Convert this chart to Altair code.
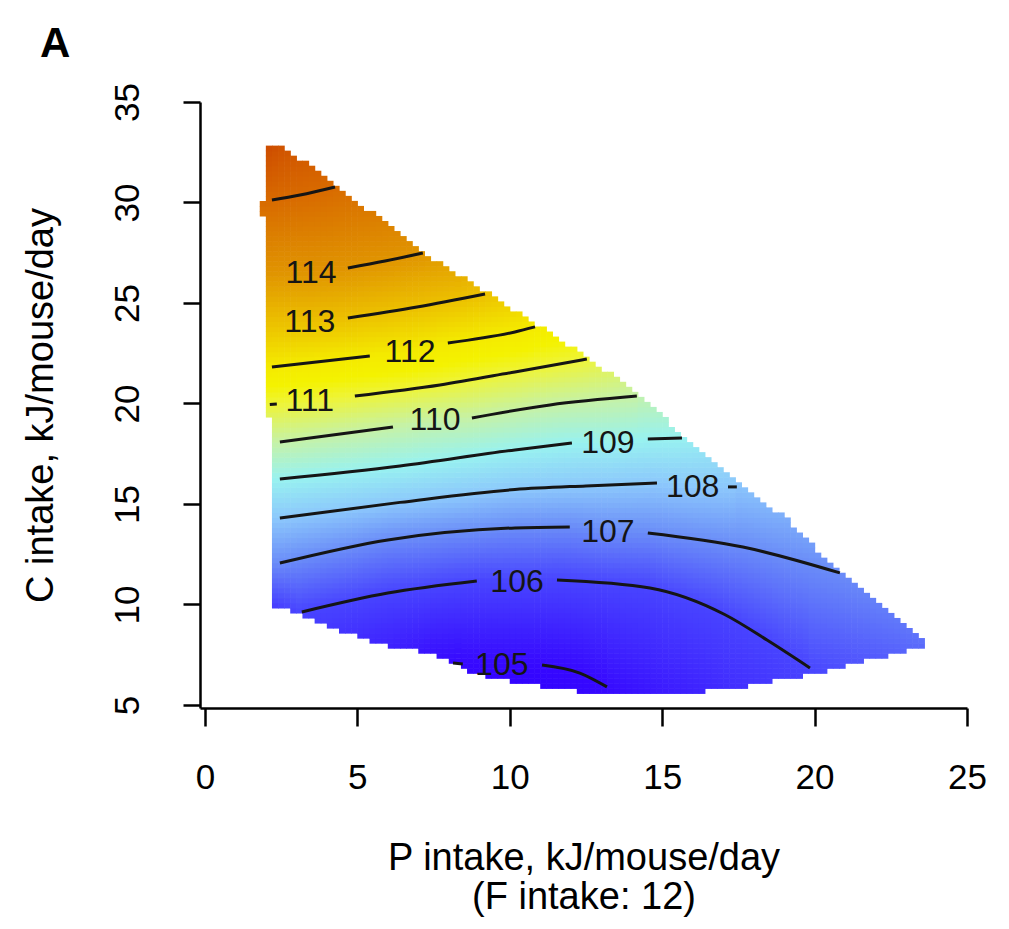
import numpy as np
import pandas as pd
import altair as alt

FONT = "Liberation Sans"

# ---------------- axes ----------------
x_ticks = [0, 5, 10, 15, 20, 25]
y_ticks = [5, 10, 15, 20, 25, 30, 35]
x_domain = [-0.16, 25.0]
y_domain = [4.85, 35.0]

# ---------------- outline of the fitted region ----------------
top_edge_x = [2.07, 2.56, 4.27, 7.12, 9.19, 10.89, 12.53, 14.27, 15.68, 17.55, 19.09, 20.83, 22.47, 23.69]
top_edge_y = [32.75, 32.75, 30.87, 27.54, 25.55, 23.9, 22.26, 20.42, 18.33, 16.04, 14.2, 11.57, 9.58, 7.99]
bottom_edge_x = [2.3, 3.05, 4.36, 6.0, 7.4, 8.8, 10.1, 12.3, 14.6, 17.13, 17.65, 19.52, 20.83, 22.24, 23.23, 23.69]
bottom_edge_y = [9.88, 9.58, 8.73, 7.9, 7.55, 6.6, 6.1, 5.65, 5.5, 5.75, 5.9, 6.39, 6.84, 7.39, 7.74, 7.99]
left_band_lo = [0.0, 19.2, 29.4, 30.1]
left_band_x = [2.3, 2.07, 1.74, 2.07]

# surface value along the region's upper and lower edges
top_val_x = [2.07, 2.56, 4.27, 7.15, 9.19, 10.83, 12.53, 14.17, 15.65, 17.5, 20.83, 23.69]
top_val = [115.6, 115.45, 115.0, 114.0, 113.0, 112.0, 111.0, 110.0, 109.0, 108.0, 107.0, 106.6]
bot_val_x = [2.3, 3.18, 8.14, 10.5, 13.19, 16.5, 19.85, 23.69]
bot_val = [105.9, 106.0, 105.0, 104.85, 105.0, 105.5, 106.0, 106.55]

# ---------------- contour lines (pieces between labels) ----------------
c105a_x = [8.14, 8.46];                     c105a_y = [7.09, 7.04]
c105b_x = [11.06, 12.3, 13.19];             c105b_y = [6.99, 6.59, 5.9]
c106a_x = [3.18, 6.0, 8.92];                c106a_y = [9.63, 10.57, 11.17]
c106b_x = [11.55, 14.6, 17.05, 18.44, 19.85]; c106b_y = [11.22, 10.82, 9.5, 8.23, 6.84]
c107a_x = [2.46, 6.0, 10.17, 11.97];        c107a_y = [12.06, 13.21, 13.81, 13.86]
c107b_x = [14.53, 17.65, 20.83];            c107b_y = [13.56, 12.86, 11.57]
c108a_x = [2.46, 6.4, 10.17, 12.5, 14.83];  c108a_y = [14.3, 15.08, 15.72, 15.9, 16.04]
c108b_x = [17.16, 17.45];                   c108b_y = [15.85, 15.85]
c109a_x = [2.46, 6.4, 10.17, 12.04];        c109a_y = [16.24, 16.89, 17.69, 18.03]
c109b_x = [14.53, 15.65];                   c109b_y = [18.23, 18.28]
c110a_x = [2.46, 6.17];                     c110a_y = [18.08, 18.83]
c110b_x = [8.76, 11.32, 14.17];             c110b_y = [19.28, 19.93, 20.37]
c111a_x = [2.13, 2.36];                     c111a_y = [19.95, 19.98]
c111b_x = [4.92, 7.71, 10.17, 12.53];       c111b_y = [20.37, 20.92, 21.57, 22.21]
c112a_x = [2.2, 5.41];                      c112a_y = [21.82, 22.36]
c112b_x = [7.97, 10.17, 10.83];             c112b_y = [23.01, 23.56, 23.81]
c113a_x = [4.69, 6.96, 9.19];               c113a_y = [24.25, 24.8, 25.45]
c114a_x = [4.69, 5.91, 7.15];               c114a_y = [26.74, 27.09, 27.49]
c115a_x = [2.2, 3.12, 4.27];                c115a_y = [30.12, 30.37, 30.77]

label_levels = [105, 106, 107, 108, 109, 110, 111, 112, 113, 114]
label_x = [9.74, 10.24, 13.22, 16.0, 13.22, 7.55, 3.44, 6.73, 3.44, 3.48]
label_y = [6.99, 11.12, 13.61, 15.85, 18.03, 19.18, 20.1, 22.56, 24.05, 26.5]
reach_left = [107, 108, 109, 110, 111, 112, 113, 114, 115]

# ---------------- colour ramp ----------------
col_levels = [104.8, 105.0, 106.0, 107.0, 108.0, 109.0, 110.0, 111.0, 111.5, 112.0, 113.0, 114.0, 115.0, 115.7]
col_hex = ["#3000ff", "#3608ff", "#4844ff", "#6a8cf8", "#8cc8fc", "#98f2f0", "#c6f2a6",
           "#eef438", "#f4f200", "#f4ea00", "#ecc000", "#e09400", "#d86a00", "#cc4800"]

segments = [
    (105, c105a_x, c105a_y), (105, c105b_x, c105b_y),
    (106, c106a_x, c106a_y), (106, c106b_x, c106b_y),
    (107, c107a_x, c107a_y), (107, c107b_x, c107b_y),
    (108, c108a_x, c108a_y), (108, c108b_x, c108b_y),
    (109, c109a_x, c109a_y), (109, c109b_x, c109b_y),
    (110, c110a_x, c110a_y), (110, c110b_x, c110b_y),
    (111, c111a_x, c111a_y), (111, c111b_x, c111b_y),
    (112, c112a_x, c112a_y), (112, c112b_x, c112b_y),
    (113, c113a_x, c113a_y),
    (114, c114a_x, c114a_y),
    (115, c115a_x, c115a_y),
]

# full polylines per level (pieces + label position) for building the surface
full = {}
for lev, sx, sy in segments:
    full.setdefault(lev, []).extend(zip(sx, sy))
for lev, lx, ly in zip(label_levels, label_x, label_y):
    full.setdefault(lev, []).append((lx, ly))
for lev in full:
    full[lev] = sorted(full[lev])


def column_knots(cx):
    knots = []
    if cx >= bot_val_x[0]:
        knots.append((float(np.interp(cx, bottom_edge_x, bottom_edge_y)),
                      float(np.interp(cx, bot_val_x, bot_val))))
    if cx >= top_val_x[0]:
        knots.append((float(np.interp(cx, top_edge_x, top_edge_y)),
                      float(np.interp(cx, top_val_x, top_val))))
    for lev, pts in full.items():
        px = [p[0] for p in pts]
        py = [p[1] for p in pts]
        if cx < px[0]:
            if lev in reach_left:
                knots.append((py[0], float(lev)))
        elif cx <= px[-1]:
            knots.append((float(np.interp(cx, px, py)), float(lev)))
    knots.sort()
    return [k[0] for k in knots], [k[1] for k in knots]


DX, DY = 0.2, 0.25
cells = []
for x0 in np.arange(1.6, 23.8, DX):
    cx = x0 + DX / 2
    if cx > top_edge_x[-1]:
        continue
    yb = np.interp(cx, bottom_edge_x, bottom_edge_y)
    yt = np.interp(cx, top_edge_x, top_edge_y)
    ky, kv = column_knots(cx)
    for y0 in np.arange(5.3, 33.0, DY):
        cy = y0 + DY / 2
        i = np.searchsorted(left_band_lo, cy, side="right") - 1
        if i < 0 or cx < left_band_x[i]:
            continue
        if cy < yb or cy > yt:
            continue
        v = float(np.interp(cy, ky, kv))
        cells.append({"x": round(x0, 3), "x2": round(x0 + DX + 0.02, 3),
                      "y": round(y0, 3), "y2": round(y0 + DY + 0.03, 3), "v": round(v, 3)})
cells_df = pd.DataFrame(cells)

line_rows = []
for si, (lev, sx, sy) in enumerate(segments):
    for k, (a, b) in enumerate(zip(sx, sy)):
        line_rows.append({"x": a, "y": b, "seg": si, "ord": k})
lines_df = pd.DataFrame(line_rows)

labels_df = pd.DataFrame({"x": label_x, "y": label_y, "t": [str(l) for l in label_levels]})

xs = alt.Scale(domain=x_domain, nice=False, zero=False)
ys = alt.Scale(domain=y_domain, nice=False, zero=False)
xaxis = alt.Axis(values=x_ticks, title=["P intake, kJ/mouse/day", "(F intake: 12)"], grid=False,
                 tickSize=18, tickWidth=2.5, domainWidth=2.5, labelFontSize=35, labelPadding=34,
                 titleFontSize=38, titlePadding=44, titleLineHeight=39, labelFlush=False)
yaxis = alt.Axis(values=y_ticks, title="C intake, kJ/mouse/day", grid=False,
                 tickSize=17, tickWidth=2.5, domainWidth=2.5, labelFontSize=35, labelPadding=38,
                 labelAngle=270, labelAlign="center", labelBaseline="bottom",
                 titleFontSize=38, titlePadding=50, labelFlush=False)

X = alt.X("x:Q", scale=xs, axis=xaxis)
Y = alt.Y("y:Q", scale=ys, axis=yaxis)

rects = alt.Chart(cells_df).mark_rect(strokeWidth=0).encode(
    x=X, x2="x2:Q", y=Y, y2="y2:Q",
    color=alt.Color("v:Q", scale=alt.Scale(domain=col_levels, range=col_hex, interpolate="rgb", clamp=True),
                    legend=None),
)

lines = alt.Chart(lines_df).mark_line(color="#151515", strokeWidth=3, interpolate="monotone").encode(
    x=X, y=Y, detail="seg:N", order="ord:Q"
)

labels = alt.Chart(labels_df).mark_text(font=FONT, fontSize=32, color="#151515",
                                        align="center", baseline="middle").encode(
    x=X, y=Y, text="t:N"
)

chart = alt.layer(rects, lines, labels).properties(
    width=767, height=606,
    title=alt.TitleParams("A", anchor="start", frame="group", dx=-160, offset=-16, fontSize=42,
                          font=FONT, fontWeight="bold", color="black", baseline="alphabetic"),
    autosize=alt.AutoSizeParams(type="none"),
    padding={"left": 192, "top": 94, "right": 32, "bottom": 212},
).configure_view(stroke=None).configure_axis(
    labelFont=FONT, titleFont=FONT, labelColor="black", titleColor="black",
    tickColor="black", domainColor="black", titleFontWeight="normal"
)

chart.save("out.html", embed_options={"renderer": "svg", "actions": False})
